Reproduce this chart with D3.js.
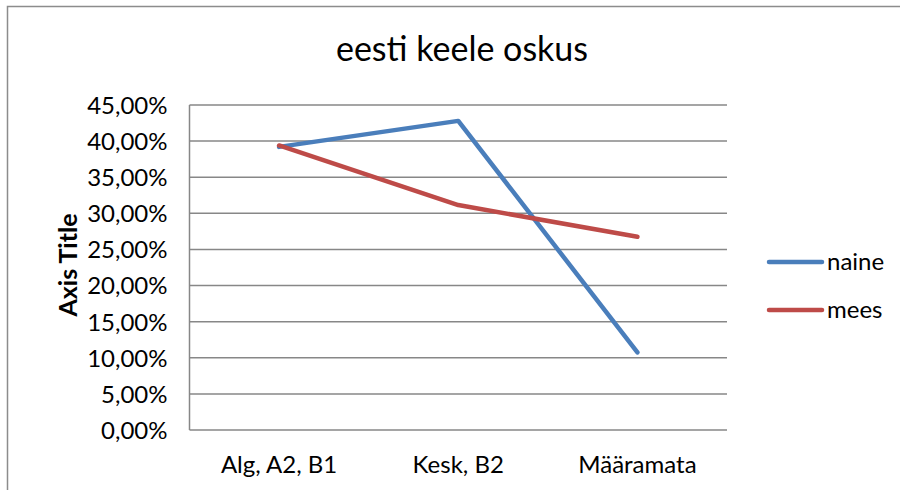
<!DOCTYPE html>
<html><head><meta charset="utf-8">
<script src="https://cdn.jsdelivr.net/npm/d3@7"></script>
<style>body{margin:0;background:#fff}svg{display:block}text{font-family:Lato,"Open Sans",sans-serif;fill:#000}</style>
</head><body>
<svg id="c" width="900" height="490"></svg>
<script>
const categories = ["Alg, A2, B1", "Kesk, B2", "Määramata"];
const naine = [0.392, 0.428, 0.1075];
const mees = [0.394, 0.3115, 0.2675];
const seriesNames = ["naine", "mees"];
const yTicks = [0,0.05,0.10,0.15,0.20,0.25,0.30,0.35,0.40,0.45];
const colors = ["#4A7EBB", "#BE4B48"];

const svg = d3.select("#c");
svg.append("rect").attr("x",7.5).attr("y",6.5).attr("width",900).attr("height",500)
  .attr("fill","#fff").attr("stroke","#8c8c8c").attr("stroke-width",1.5);

const L=189.5, R=727, T=105, B=430;
const x = d3.scaleBand().domain(categories).range([L,R]);
const y = d3.scaleLinear().domain([0,0.45]).range([B,T]);

svg.append("text").attr("x",462).attr("y",61).attr("text-anchor","middle")
  .attr("font-size",34).text("eesti keele oskus");

const g = svg.append("g");
g.selectAll("line.grid").data(yTicks).join("line").attr("class","grid")
  .attr("x1",L).attr("x2",R).attr("y1",d=>y(d)).attr("y2",d=>y(d))
  .attr("stroke","#878787").attr("stroke-width",1.5);
g.append("line").attr("x1",L).attr("x2",L).attr("y1",T).attr("y2",B)
  .attr("stroke","#878787").attr("stroke-width",1.5);

const fmt = d => (d*100).toFixed(2).replace(".",",")+"%";
const yAxis = d3.axisLeft(y).tickValues(yTicks).tickFormat(fmt).tickSize(0).tickPadding(22);
const ya = svg.append("g").attr("transform",`translate(${L},0)`).call(yAxis);
ya.select(".domain").remove();
ya.selectAll("text").attr("font-size",24).attr("font-family","Lato, sans-serif").attr("dy","0.35em");

const xAxis = d3.axisBottom(x).tickSize(0).tickPadding(0);
const xa = svg.append("g").attr("transform",`translate(0,${B})`).call(xAxis);
xa.select(".domain").remove();
xa.selectAll("text").attr("font-size",24).attr("font-family","Lato, sans-serif").attr("y",43).attr("dy",0);

svg.append("text").attr("transform","translate(77,265) rotate(-90)").attr("text-anchor","middle")
  .attr("font-size",25).attr("font-weight","bold").text("Axis Title");

const line = d3.line().x((d,i)=>x(categories[i])+x.bandwidth()/2).y(d=>y(d));
[naine, mees].forEach((s,k)=>{
  svg.append("path").attr("d",line(s)).attr("fill","none").attr("stroke",colors[k])
    .attr("stroke-width",4.5).attr("stroke-linejoin","round").attr("stroke-linecap","round");
});

const lg = svg.append("g");
seriesNames.forEach((n,k)=>{
  const yy = 262 + k*48;
  lg.append("line").attr("x1",769).attr("x2",822).attr("y1",yy).attr("y2",yy)
    .attr("stroke",colors[k]).attr("stroke-width",4.5).attr("stroke-linecap","round");
  lg.append("text").attr("x",827).attr("y",yy+8).attr("font-size",24).text(n);
});
</script>
</body></html>
